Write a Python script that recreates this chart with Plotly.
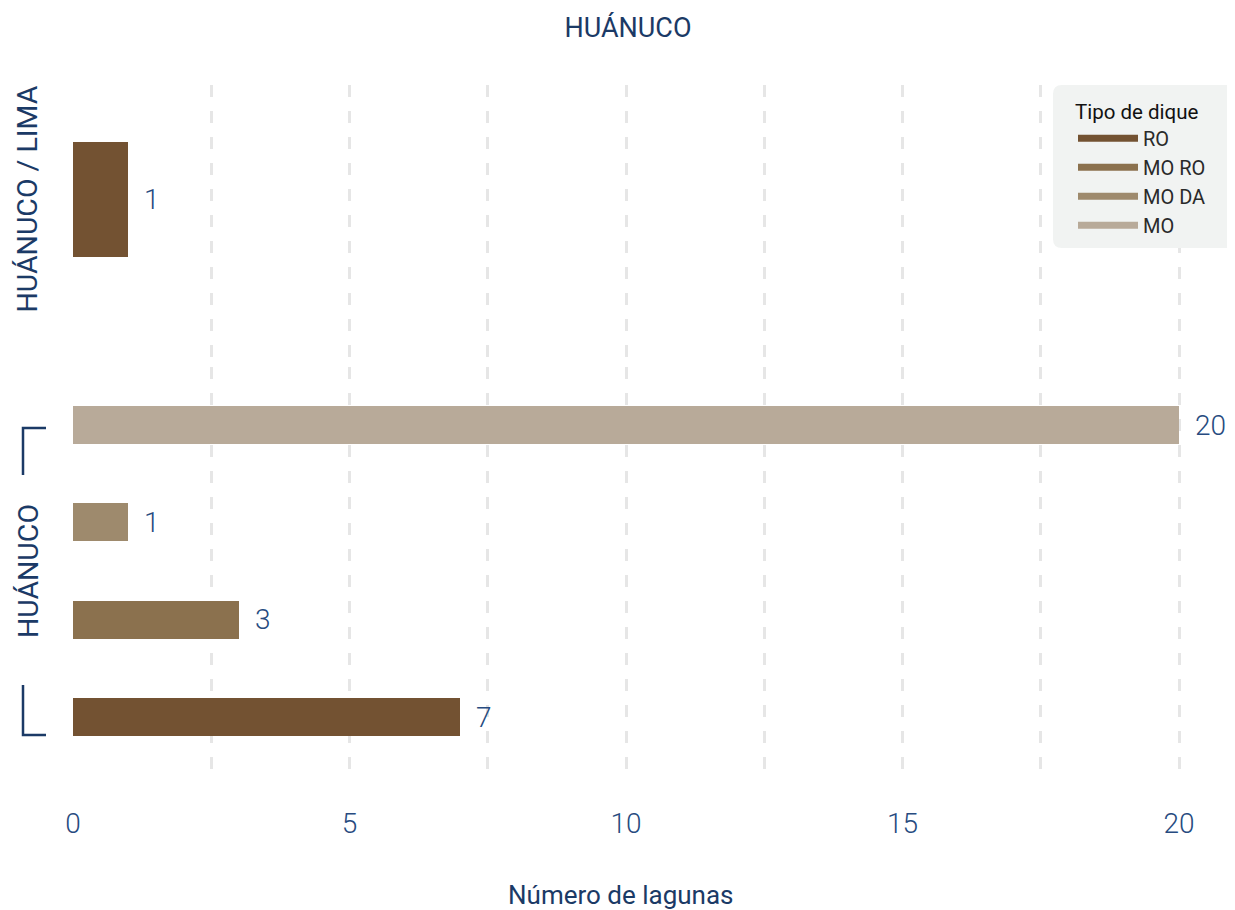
import plotly.graph_objects as go
from plotly.subplots import make_subplots

# Lagunas por tipo de dique - HUÁNUCO

tipos = ["RO", "MO RO", "MO DA", "MO"]
colores = ["#735232", "#8b714e", "#9e8a6d", "#b8aa99"]

lima_tipos = ["RO"]
lima_lagunas = [1]

huanuco_tipos = ["RO", "MO RO", "MO DA", "MO"]
huanuco_lagunas = [7, 3, 1, 20]

x_ticks = [0, 5, 10, 15, 20]
x_grid = [2.5, 5, 7.5, 10, 12.5, 15, 17.5, 20]

NAVY = "#1b3a66"
BLUE = "#274b80"
FONT = "Roboto"

# page body has an 8px margin, so the figure is drawn 8px smaller
OFF = 8
W, H = 1235 - OFF, 910 - OFF
L, R, T, B = 73 - OFF, 20, 85 - OFF, 130
color_de = dict(zip(tipos, colores))


def px_x(p):
    # screen px (reference) -> paper x
    return (p - OFF - L) / (W - L - R)


def px_y(p):
    return (H - B - (p - OFF)) / (H - T - B)


fig = make_subplots(rows=2, cols=1, shared_xaxes=True, vertical_spacing=0)

fig.add_trace(go.Bar(x=lima_lagunas, y=lima_tipos, orientation="h", width=0.5,
                     marker=dict(color=[color_de[t] for t in lima_tipos], line_width=0),
                     showlegend=False, hoverinfo="x+y"), row=1, col=1)
fig.add_trace(go.Bar(x=huanuco_lagunas, y=huanuco_tipos, orientation="h", width=0.39,
                     marker=dict(color=[color_de[t] for t in huanuco_tipos], line_width=0),
                     showlegend=False, hoverinfo="x+y"), row=2, col=1)

# legend entries
for t, c in zip(tipos, colores):
    fig.add_trace(go.Scatter(x=[None], y=[None], mode="lines", name=t,
                             line=dict(color=c, width=7)), row=2, col=1)

# value labels
annots = []
for v, t in zip(lima_lagunas, lima_tipos):
    annots.append(dict(x=v, y=t, xref="x", yref="y", text=str(v), showarrow=False,
                       xanchor="left", xshift=14,
                       font=dict(family=FONT, size=28, weight=300, color=BLUE)))
for v, t in zip(huanuco_lagunas, huanuco_tipos):
    annots.append(dict(x=v, y=t, xref="x2", yref="y2", text=str(v), showarrow=False,
                       xanchor="left", xshift=14,
                       font=dict(family=FONT, size=28, weight=300, color=BLUE)))

# group labels
annots.append(dict(x=px_x(28), y=0, xref="paper", yref="y", text="HUÁNUCO / LIMA",
                   textangle=-90, showarrow=False, xanchor="center", yanchor="middle",
                   font=dict(family=FONT, size=28.5, color=NAVY)))
annots.append(dict(x=px_x(28), y=1.5, xref="paper", yref="y2", text="HUÁNUCO",
                   textangle=-90, showarrow=False, xanchor="center", yanchor="middle",
                   font=dict(family=FONT, size=28.5, color=NAVY)))

# axis title
annots.append(dict(x=px_x(621), y=px_y(895), xref="paper", yref="paper", text="Número de lagunas",
                   showarrow=False, xanchor="center", yanchor="middle",
                   font=dict(family=FONT, size=26, color=NAVY)))


# bracket for the HUÁNUCO group
def path(points):
    return "M " + " L ".join(f"{px_x(a)},{px_y(b)}" for a, b in points)


shapes = [
    dict(type="path", xref="paper", yref="paper", path=path([(46, 428), (23, 428), (23, 475)]),
         line=dict(color=NAVY, width=2.5)),
    dict(type="path", xref="paper", yref="paper", path=path([(23, 685), (23, 735), (46, 735)]),
         line=dict(color=NAVY, width=2.5)),
]

# legend background box with rounded left corners
x0, x1, y0, y1, r = 1053, 1240, 85, 248, 9
box = (f"M {px_x(x0 + r)},{px_y(y0)} L {px_x(x1)},{px_y(y0)} L {px_x(x1)},{px_y(y1)} "
       f"L {px_x(x0 + r)},{px_y(y1)} Q {px_x(x0)},{px_y(y1)} {px_x(x0)},{px_y(y1 - r)} "
       f"L {px_x(x0)},{px_y(y0 + r)} Q {px_x(x0)},{px_y(y0)} {px_x(x0 + r)},{px_y(y0)} Z")
shapes.append(dict(type="path", xref="paper", yref="paper", path=box,
                   fillcolor="#f1f3f2", line=dict(width=0), layer="above"))

fig.update_layout(
    width=W, height=H,
    plot_bgcolor="white", paper_bgcolor="white",
    margin=dict(l=L, r=R, t=T, b=B),
    title=dict(text="HUÁNUCO", x=(628 - OFF) / W, xanchor="center", y=1 - (28 - OFF) / H,
               yanchor="middle", font=dict(family=FONT, size=27, color=NAVY)),
    legend=dict(title=dict(text="Tipo de dique", font=dict(family=FONT, size=20.5, color="#111111")),
                font=dict(family=FONT, size=20, color="#2a2a2a"), itemwidth=60,
                bgcolor="rgba(0,0,0,0)", x=px_x(1073), xanchor="left", y=px_y(92), yanchor="top",
                tracegroupgap=0),
    annotations=annots,
    shapes=shapes,
    bargap=0,
)

grid = dict(tickvals=x_grid, showgrid=True, gridcolor="#e6e6e6", gridwidth=2.5, griddash="12px,14px")
for ax in ("xaxis", "xaxis2"):
    fig.layout[ax].update(range=[0, 20.65], tickvals=x_ticks, showgrid=False, zeroline=False,
                          showline=False, minor=grid)
fig.layout.xaxis2.update(ticks="outside", ticklen=18, tickcolor="white",
                         tickfont=dict(family=FONT, size=28, weight=300, color=BLUE))

fig.layout.yaxis.update(domain=[px_y(367), 1], range=[-0.728, 0.498], showticklabels=False,
                        showgrid=False, zeroline=False, categoryorder="array", categoryarray=lima_tipos)
fig.layout.yaxis2.update(domain=[0, px_y(367)], range=[-0.647, 3.597], showticklabels=False,
                         showgrid=False, zeroline=False, categoryorder="array", categoryarray=huanuco_tipos)

fig.write_html("out.html")
